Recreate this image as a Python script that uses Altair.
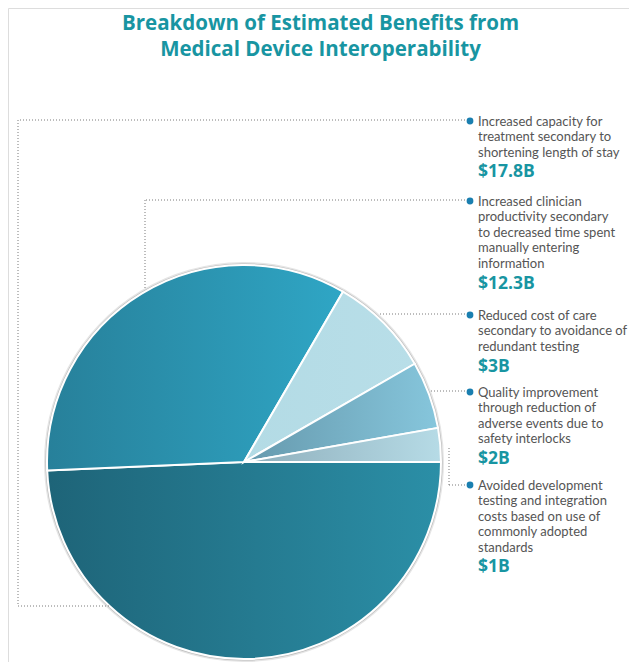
import math
import altair as alt
import pandas as pd

# ---------------- data ----------------
title_lines = ["Breakdown of Estimated Benefits from", "Medical Device Interoperability"]
categories = [
    "Increased capacity for\ntreatment secondary to\nshortening length of stay",
    "Increased clinician\nproductivity secondary\nto decreased time spent\nmanually entering\ninformation",
    "Reduced cost of care\nsecondary to avoidance of\nredundant testing",
    "Quality improvement\nthrough reduction of\nadverse events due to\nsafety interlocks",
    "Avoided development\ntesting and integration\ncosts based on use of\ncommonly adopted\nstandards",
]
values = [17.8, 12.3, 3, 2, 1]
value_labels = ["$17.8B", "$12.3B", "$3B", "$2B", "$1B"]

# ---------------- style / layout ----------------
grad_stops = [
    ("#1e6478", "#2b8fa7"),
    ("#27809a", "#2fa6c5"),
    ("#b3dbe5", "#b8dee8"),
    ("#6699ad", "#86c6dc"),
    ("#8eaebb", "#b6dbe6"),
]
W, H = 621, 654
CX, CY, R = 236, 454, 197
TEAL = "#1895a2"
label_x = 470
dot_x = 462
label_first_y = [113, 193, 307, 384, 477]
value_y = [164, 276, 359, 451, 559]
leaders = [  # dotted connector segments (annotation layout, pixels)
    (457, 112, 10, 112), (10, 112, 10, 598), (10, 598, 102, 598),
    (457, 192, 137, 192), (137, 192, 137, 281),
    (457, 306, 370, 306),
    (457, 383, 422, 383),
    (457, 477, 441, 477), (441, 477, 441, 439),
]

df = pd.DataFrame({
    "category": categories,
    "value": values,
    "order": list(range(len(values))),
    "vlabel": value_labels,
    "ly": [y + 4.5 for y in label_first_y],
    "vy": value_y,
    "dy": label_first_y,
})


def grad(c0, c1):
    return {
        "gradient": "linear", "x1": 0, "x2": 1, "y1": 0, "y2": 0,
        "stops": [{"offset": 0, "color": c0}, {"offset": 1, "color": c1}],
    }


fill_enc = {
    "condition": [
        {"test": f"datum.order == {i}", "value": grad(*grad_stops[i])}
        for i in range(len(grad_stops) - 1)
    ],
    "value": grad(*grad_stops[-1]),
}

theta_scale = alt.Scale(range=[math.pi / 2, math.pi / 2 + 2 * math.pi])

pie_base = alt.Chart(df).encode(
    theta=alt.Theta("value:Q", stack=True, scale=theta_scale),
    order=alt.Order("order:Q", sort="ascending"),
)

rim1 = pie_base.mark_arc(radius=R + 3, fill="#000000", opacity=0.10, x=CX, y=CY)
rim2 = pie_base.mark_arc(radius=R + 1.6, fill="#888888", opacity=0.45, x=CX, y=CY)
pie = pie_base.mark_arc(stroke="white", strokeWidth=2, radius=R, x=CX, y=CY).encode(fill=fill_enc)

ldf = pd.DataFrame(leaders, columns=["x1", "y1", "x2", "y2"])
lead = alt.Chart(ldf).mark_rule(color="#7a7a7a", strokeWidth=1, strokeDash=[1, 2]).encode(
    x=alt.X("x1:Q", scale=None), y=alt.Y("y1:Q", scale=None),
    x2="x2:Q", y2="y2:Q")

dots = alt.Chart(df).mark_circle(size=46, color="#1a7fb0", opacity=1).encode(
    x=alt.value(dot_x), y=alt.Y("dy:Q", scale=None))

labels = alt.Chart(df).mark_text(
    align="left", baseline="alphabetic", lineBreak="\n", lineHeight=15.6,
    font="Lato", fontSize=13, color="#555555", x=label_x,
).encode(y=alt.Y("ly:Q", scale=None), text="category:N")

vlabels = alt.Chart(df).mark_text(
    align="left", baseline="middle", font="Open Sans", fontWeight="bold",
    fontSize=17.5, color=TEAL, x=label_x,
).encode(y=alt.Y("vy:Q", scale=None), text="vlabel:N")

tdf = pd.DataFrame({"t": title_lines, "ty": [21.5, 47.5]})
title = alt.Chart(tdf).mark_text(
    align="center", baseline="alphabetic", font="Open Sans", fontWeight="bold",
    fontSize=20.5, color=TEAL, x=W / 2 + 2,
).encode(y=alt.Y("ty:Q", scale=None), text="t:N")

chart = alt.layer(rim1, rim2, pie, lead, dots, labels, vlabels, title).properties(
    width=W, height=H, padding=0, autosize=alt.AutoSizeParams(type="none"),
).configure_view(stroke=None).configure(background="white")

chart.save("out.html", embed_options={"renderer": "svg", "actions": False})
